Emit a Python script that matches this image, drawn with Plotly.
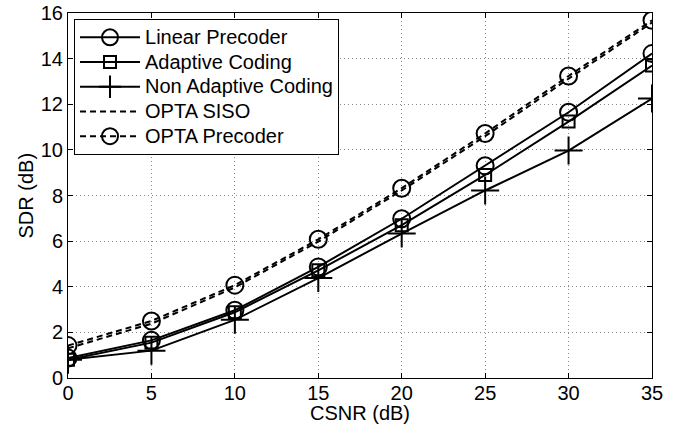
import plotly.graph_objects as go

csnr = [0, 5, 10, 15, 20, 25, 30, 35]
linear_precoder = [0.88, 1.65, 2.97, 4.87, 6.98, 9.3, 11.65, 14.22]
adaptive_coding = [0.8, 1.55, 2.88, 4.72, 6.7, 8.9, 11.24, 13.7]
non_adaptive = [0.8, 1.2, 2.55, 4.38, 6.33, 8.22, 9.97, 12.25]
opta_siso = [1.3, 2.38, 3.97, 5.98, 8.22, 10.6, 13.12, 15.58]
opta_precoder = [1.42, 2.5, 4.07, 6.08, 8.32, 10.72, 13.24, 15.68]

series_names = ["Linear Precoder", "Adaptive Coding", "Non Adaptive Coding",
                "OPTA SISO", "OPTA Precoder"]

xticks = [0, 5, 10, 15, 20, 25, 30, 35]
yticks = [0, 2, 4, 6, 8, 10, 12, 14, 16]

FONT = "Liberation Sans, Arial, Helvetica, sans-serif"
FS = 20


def lname(s):
    return f'<span style="font-size:20px">{s}</span>'


fig = go.Figure()

fig.add_trace(go.Scatter(x=csnr, y=linear_precoder, name=lname(series_names[0]),
    mode="lines+markers", line=dict(color="black", width=2),
    marker=dict(symbol="circle-open", size=17, color="black", line=dict(width=2))))
fig.add_trace(go.Scatter(x=csnr, y=adaptive_coding, name=lname(series_names[1]),
    mode="lines+markers", line=dict(color="black", width=2),
    marker=dict(symbol="square-open", size=12, color="black", line=dict(width=2))))
fig.add_trace(go.Scatter(x=csnr, y=non_adaptive, name=lname(series_names[2]),
    mode="lines+markers", line=dict(color="black", width=2),
    marker=dict(symbol="cross-thin-open", size=20, color="black", line=dict(width=2, color="black"))))
fig.add_trace(go.Scatter(x=csnr, y=opta_siso, name=lname(series_names[3]),
    mode="lines", line=dict(color="black", width=2, dash="6px,4px")))
fig.add_trace(go.Scatter(x=csnr, y=opta_precoder, name=lname(series_names[4]),
    mode="lines+markers", line=dict(color="black", width=2, dash="6px,4px"),
    marker=dict(symbol="circle-open", size=17, color="black", line=dict(width=2))))

axis_common = dict(
    showline=True, linecolor="black", linewidth=1, mirror="ticks",
    ticks="inside", ticklen=5, tickcolor="black", tickwidth=1,
    showgrid=True, gridcolor="#888888", griddash="1px,3px", gridwidth=1,
    zeroline=False, tickfont=dict(family=FONT, size=FS, color="black"),
    automargin=False,
)
fig.update_xaxes(range=[0, 35], tickvals=xticks, ticktext=[str(v) for v in xticks],
    ticklabelstandoff=-3, **axis_common)
fig.update_yaxes(range=[0, 16], tickvals=yticks, ticktext=[str(v) for v in yticks],
    ticklabelstandoff=0, **axis_common)

# plot area: 584 x 365 px
fig.add_annotation(text="CSNR (dB)", xref="paper", yref="paper", x=0.5, y=-35/365,
    xanchor="center", yanchor="middle", showarrow=False,
    font=dict(family=FONT, size=FS, color="black"))
fig.add_annotation(text="SDR (dB)", xref="paper", yref="paper", x=-43/584, y=0.5,
    xanchor="center", yanchor="middle", showarrow=False, textangle=-90,
    font=dict(family=FONT, size=FS, color="black"))

fig.update_layout(
    width=681, height=430,
    margin=dict(l=68, r=29, t=13, b=52),
    plot_bgcolor="white", paper_bgcolor="white",
    font=dict(family=FONT, size=FS, color="black"),
    legend=dict(x=0.0103, y=0.9836, xanchor="left", yanchor="top",
        bgcolor="white", bordercolor="black", borderwidth=1,
        font=dict(family=FONT, size=16.7, color="black"),
        tracegroupgap=0, itemwidth=60),
    showlegend=True,
)

fig.write_html("out.html", config={"displayModeBar": False},
               post_script="document.body.style.margin='0';")
